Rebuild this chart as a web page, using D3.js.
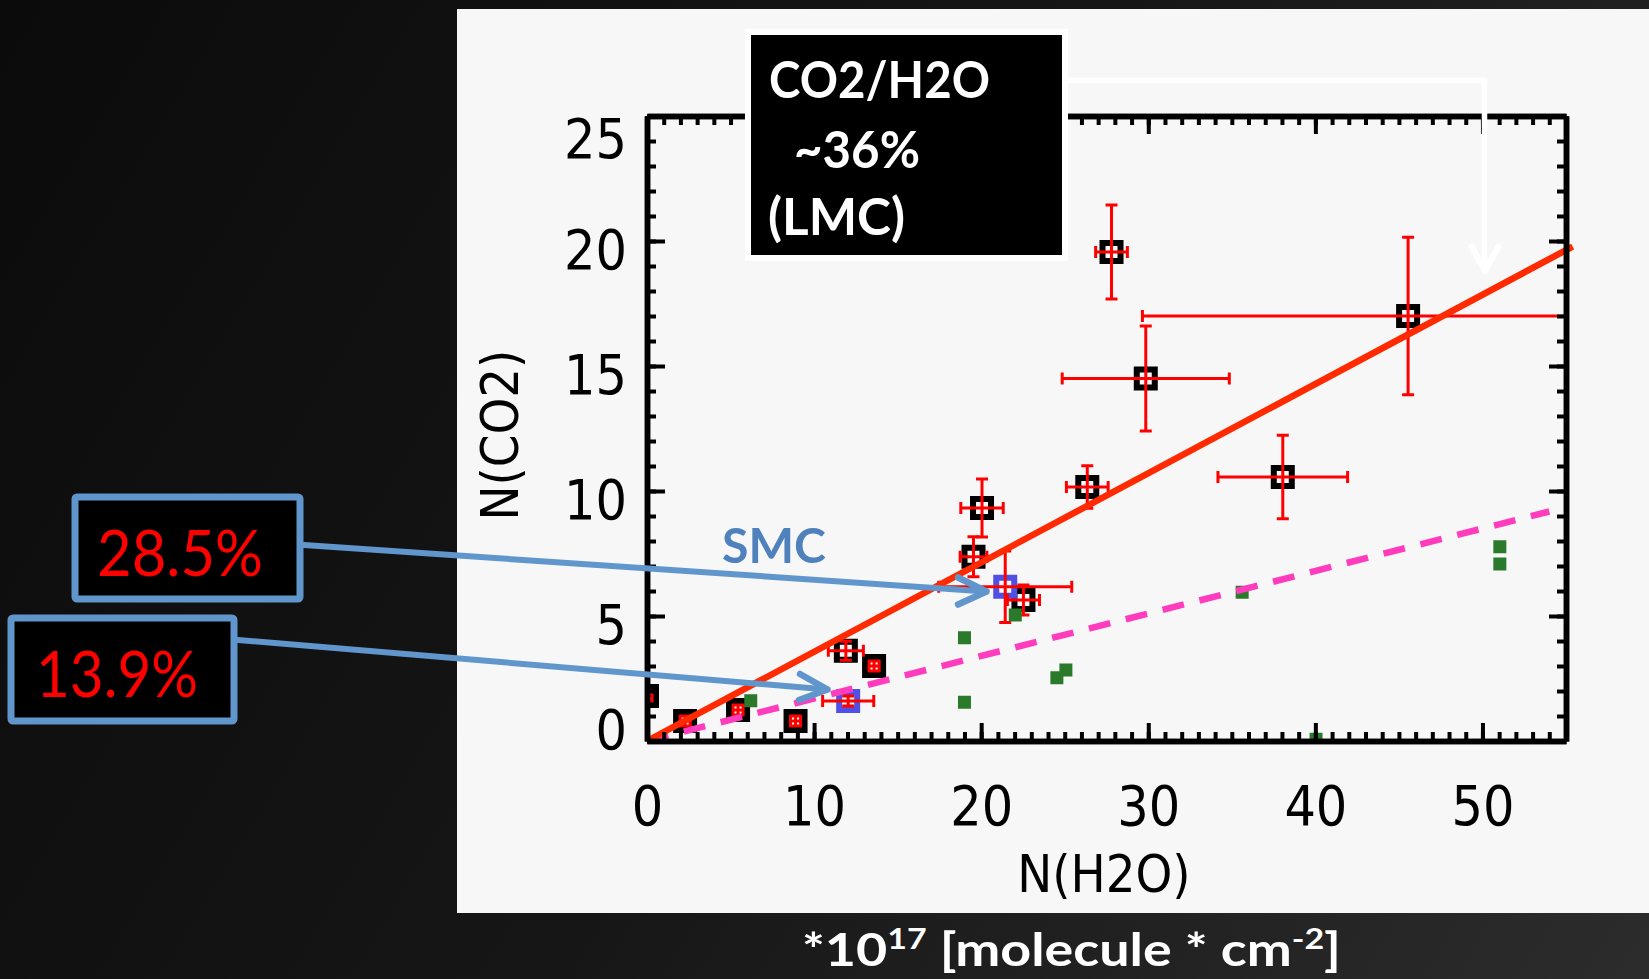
<!DOCTYPE html>
<html><head><meta charset="utf-8">
<script src="https://cdn.jsdelivr.net/npm/d3@7"></script>
<style>html,body{margin:0;padding:0;background:#111;overflow:hidden}</style>
</head><body>
<svg id="c" width="1649" height="979"></svg>
<script>
// ---------- data ----------
const xTicks = [0, 10, 20, 30, 40, 50];
const yTicks = [0, 5, 10, 15, 20, 25];
const xDomain = [0, 55];
const yDomain = [0, 25];

// LMC sources (black squares, red error bars)
const lmcX    = [27.8, 45.55, 29.85, 26.35, 38.05, 20.05, 19.54, 22.53, 11.9, 13.59, 8.89, 5.45, 2.28, 0.0];
const lmcY    = [19.56, 17.0, 14.5, 10.16, 10.56, 9.32, 7.37, 5.64, 3.61, 3.0, 0.8, 1.24, 0.8, 1.8];
const lmcXErr = [0.95, 15.9, 5.0, 1.25, 3.88, 1.27, 0.8, 0.96, 1.05, 0.3, 0.3, 0.3, 0.3, 0.3];
const lmcYErr = [1.88, 3.15, 2.1, 0.85, 1.67, 1.16, 0.8, 0.6, 0.38, 0.2, 0.2, 0.2, 0.2, 0.2];

// SMC sources (blue squares, red error bars)
const smcX    = [21.44, 12.04];
const smcY    = [6.17, 1.6];
const smcXErr = [3.98, 1.53];
const smcYErr = [1.43, 0.2];

// other sources (green filled squares)
const grnX = [6.21, 19.0, 19.0, 22.04, 24.53, 25.07, 35.62, 40.04, 51.04, 51.04];
const grnY = [1.61, 4.13, 1.55, 5.04, 2.53, 2.84, 5.95, 0.07, 7.77, 7.08];

// fitted ratios
const lmcSlope = 0.357, lmcFitEnd = 55.4;
const smcSlope = 0.17,  smcFitEnd = 54.0;

// texts
const boxLines = ["CO2/H2O", "~36%", "(LMC)"];
const pctLabels = ["28.5%", "13.9%"];
const smcLabel = "SMC";
const xTitle = "N(H2O)";
const yTitle = "N(CO2)";

// ---------- drawing ----------
const svg = d3.select("#c");
const defs = svg.append("defs");
const bg = defs.append("linearGradient").attr("id","bg")
  .attr("gradientUnits","userSpaceOnUse").attr("x1",0).attr("y1",0).attr("x2",1649).attr("y2",979);
bg.append("stop").attr("offset",0).attr("stop-color","#0b0b0b");
bg.append("stop").attr("offset",0.5).attr("stop-color","#161616");
bg.append("stop").attr("offset",1).attr("stop-color","#2c2c2c");
svg.append("rect").attr("width",1649).attr("height",979).attr("fill","url(#bg)");

// white panel
svg.append("rect").attr("x",457).attr("y",9).attr("width",1192).attr("height",904).attr("fill","#f7f7f7");

const x = d3.scaleLinear().domain(xDomain).range([647, 1566]);
const y = d3.scaleLinear().domain(yDomain).range([741, 116]);

defs.append("clipPath").attr("id","plot").append("rect")
  .attr("x",647).attr("y",116).attr("width",919).attr("height",625);

const data = svg.append("g").attr("clip-path","url(#plot)");

function markers(xs, ys, color){
  data.append("g").selectAll("rect").data(xs).join("rect")
    .attr("x",(d,i)=>x(d)-9).attr("y",(d,i)=>y(ys[i])-9)
    .attr("width",18).attr("height",18)
    .attr("fill","#f7f7f7").attr("stroke",color).attr("stroke-width",6);
}
function errbars(xs, ys, xe, ye){
  const g = data.append("g").attr("stroke","#ff0000").attr("stroke-width",3).attr("fill","none");
  xs.forEach((d,i)=>{
    const cx=x(d), cy=y(ys[i]);
    const x0=x(d-xe[i]), x1=x(d+xe[i]), y0=y(ys[i]-ye[i]), y1=y(ys[i]+ye[i]);
    g.append("line").attr("x1",x0).attr("x2",x1).attr("y1",cy).attr("y2",cy);
    g.append("line").attr("x1",cx).attr("x2",cx).attr("y1",y0).attr("y2",y1);
    g.append("line").attr("x1",x0).attr("x2",x0).attr("y1",cy-6).attr("y2",cy+6);
    g.append("line").attr("x1",x1).attr("x2",x1).attr("y1",cy-6).attr("y2",cy+6);
    g.append("line").attr("x1",cx-6).attr("x2",cx+6).attr("y1",y0).attr("y2",y0);
    g.append("line").attr("x1",cx-6).attr("x2",cx+6).attr("y1",y1).attr("y2",y1);
  });
}
markers(lmcX, lmcY, "#000");
markers(smcX, smcY, "#5050e4");
errbars(lmcX, lmcY, lmcXErr, lmcYErr);
errbars(smcX, smcY, smcXErr, smcYErr);
data.append("g").selectAll("rect").data(grnX).join("rect")
  .attr("x",d=>x(d)-6.5).attr("y",(d,i)=>y(grnY[i])-6.5)
  .attr("width",13).attr("height",13).attr("fill","#2b7a2b");

// fit lines (not clipped)
const line = d3.line().x(d=>x(d[0])).y(d=>y(d[1]));
svg.append("path").datum([[0,0],[smcFitEnd, smcSlope*smcFitEnd]]).attr("d",line)
  .attr("stroke","#ff3cbe").attr("stroke-width",6.5).attr("stroke-dasharray","22,16").attr("fill","none");
svg.append("path").datum([[0,0],[lmcFitEnd, lmcSlope*lmcFitEnd]]).attr("d",line)
  .attr("stroke","#ff2a00").attr("stroke-width",6.5).attr("fill","none");

// axes
const minor = d3.range(0, 56, 1);
const minorY = d3.range(0, 26, 1);
function styleAxis(g){
  g.select(".domain").attr("stroke","#000").attr("stroke-width",5.5);
  g.selectAll(".tick line").attr("stroke","#000").attr("stroke-width",4);
}
const tickFont = '"DejaVu Sans Condensed","DejaVu Sans",sans-serif';
// bottom
svg.append("g").attr("transform","translate(0,741)")
  .call(d3.axisBottom(x).tickValues(minor).tickSize(-9).tickSizeOuter(0).tickFormat(""))
  .call(styleAxis);
const gx = svg.append("g").attr("transform","translate(0,741)")
  .call(d3.axisBottom(x).tickValues(xTicks).tickSize(-18).tickSizeOuter(0).tickPadding(45))
  .call(styleAxis);
gx.selectAll("text").attr("fill","#000").attr("font-family",tickFont).attr("font-stretch","condensed")
  .attr("font-size",55).attr("dy","0.71em");
// top
svg.append("g").attr("transform","translate(0,116)")
  .call(d3.axisTop(x).tickValues(minor).tickSize(-9).tickSizeOuter(0).tickFormat(""))
  .call(styleAxis);
svg.append("g").attr("transform","translate(0,116)")
  .call(d3.axisTop(x).tickValues(xTicks).tickSize(-18).tickSizeOuter(0).tickFormat(""))
  .call(styleAxis);
// left
svg.append("g").attr("transform","translate(647,0)")
  .call(d3.axisLeft(y).tickValues(minorY).tickSize(-9).tickSizeOuter(0).tickFormat(""))
  .call(styleAxis);
const gy = svg.append("g").attr("transform","translate(647,0)")
  .call(d3.axisLeft(y).tickValues(yTicks).tickSize(-18).tickSizeOuter(0).tickPadding(20))
  .call(styleAxis);
gy.selectAll("text").attr("fill","#000").attr("font-family",tickFont).attr("font-stretch","condensed")
  .attr("font-size",55).attr("dy",d=> d===yDomain[1] ? 41 : d===yDomain[0] ? 7 : 27);
// right
svg.append("g").attr("transform","translate(1566,0)")
  .call(d3.axisRight(y).tickValues(minorY).tickSize(-9).tickSizeOuter(0).tickFormat(""))
  .call(styleAxis);
svg.append("g").attr("transform","translate(1566,0)")
  .call(d3.axisRight(y).tickValues(yTicks).tickSize(-17).tickSizeOuter(0).tickFormat(""))
  .call(styleAxis);

// axis titles
svg.append("text").attr("x",1104).attr("y",892).attr("text-anchor","middle")
  .attr("font-family",tickFont).attr("font-stretch","condensed").attr("font-size",52).attr("fill","#000")
  .text(xTitle);
svg.append("text").attr("transform","translate(518,435) rotate(-90)").attr("text-anchor","middle")
  .attr("font-family",tickFont).attr("font-stretch","condensed").attr("font-size",52).attr("fill","#000")
  .text(yTitle);

// ---------- annotations ----------
const annFont = 'Lato,"Open Sans",sans-serif';
// LMC ratio box
svg.append("rect").attr("x",748).attr("y",32).attr("width",317).attr("height",226)
  .attr("fill","#000").attr("stroke","#fff").attr("stroke-width",6);
const boxX = [769, 794, 768], boxY = [98, 168, 235], boxW = [221, 126, 137];
boxLines.forEach((t,i)=>{
  svg.append("text").attr("x",boxX[i]).attr("y",boxY[i]).attr("fill","#fff")
    .attr("font-family",annFont).attr("font-weight","bold").attr("font-size",51)
    .attr("textLength",boxW[i]).attr("lengthAdjust","spacingAndGlyphs").text(t);
});
// white arrow
svg.append("path").attr("d","M1066,80.5 H1484.5 V268")
  .attr("fill","none").attr("stroke","#fff").attr("stroke-width",5.5);
svg.append("path").attr("d","M1471.5,246.5 L1485,271 L1498.5,246.5")
  .attr("fill","none").attr("stroke","#fff").attr("stroke-width",6).attr("stroke-linecap","round").attr("stroke-linejoin","round");

// SMC percentage callouts
const blue = "#6096cc";
const pctBox = [{x:75,y:497,w:225,h:102},{x:11,y:618,w:223,h:103}];
const pctText = [{x:97,y:576,w:166},{x:36,y:697,w:162}];
const pctLine = [[[304,545],[986,591.5]],[[238,640],[827,689.5]]];
const pctHead = [[[958,577.5],[986.5,591.5],[958,604.5]],[[800,674],[827.5,689.5],[799,700]]];
pctBox.forEach((b,i)=>{
  svg.append("rect").attr("x",b.x).attr("y",b.y).attr("width",b.w).attr("height",b.h)
    .attr("fill","#000").attr("stroke",blue).attr("stroke-width",7).attr("rx",2);
  svg.append("text").attr("x",pctText[i].x).attr("y",pctText[i].y).attr("fill","#ff0000")
    .attr("font-family",annFont).attr("font-size",64)
    .attr("textLength",pctText[i].w).attr("lengthAdjust","spacingAndGlyphs").text(pctLabels[i]);
  svg.append("path").attr("d",d3.line()(pctLine[i])).attr("stroke",blue).attr("stroke-width",6)
    .attr("stroke-linecap","round").attr("fill","none");
  svg.append("path").attr("d",d3.line()(pctHead[i])).attr("stroke",blue).attr("stroke-width",6.5)
    .attr("stroke-linecap","round").attr("stroke-linejoin","round").attr("fill","none");
});
svg.append("text").attr("x",722).attr("y",563).attr("fill","#4f81bd")
  .attr("font-family",annFont).attr("font-weight","bold").attr("font-size",48)
  .attr("textLength",104).attr("lengthAdjust","spacingAndGlyphs").text(smcLabel);

// units
const unit = svg.append("text").attr("x",802).attr("y",966).attr("fill","#fff")
  .attr("font-family",annFont).attr("font-weight","bold").attr("font-size",46)
  .attr("textLength",539).attr("lengthAdjust","spacingAndGlyphs");
unit.append("tspan").text("*10");
unit.append("tspan").attr("dy",-17).attr("font-size",29).text("17");
unit.append("tspan").attr("dy",17).text(" [molecule * cm");
unit.append("tspan").attr("dy",-17).attr("font-size",29).text("-2");
unit.append("tspan").attr("dy",17).text("]");
</script>
</body></html>
